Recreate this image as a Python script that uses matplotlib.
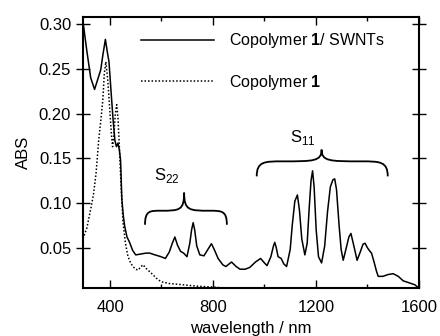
import numpy as np
import matplotlib
matplotlib.use('Agg')
import matplotlib.pyplot as plt
from matplotlib.path import Path
from matplotlib.patches import PathPatch

plt.rcParams['font.family'] = ['Liberation Sans', 'DejaVu Sans']
plt.rcParams['mathtext.fontset'] = 'custom'
plt.rcParams['mathtext.rm'] = 'Liberation Sans'
plt.rcParams['mathtext.bf'] = 'Liberation Sans:bold'

# Copolymer 1 / SWNTs (solid)
wl_swnt = [295, 310, 325, 340, 352, 364, 372, 382, 390, 396, 404, 412, 419, 425, 431, 436,
           441, 446, 452, 457, 466, 476, 488, 500, 520, 540, 554, 575, 598, 615, 630, 642,
           652, 662, 674, 686, 699, 710, 717, 723, 729, 737, 749, 765, 780, 794, 805, 820,
           838, 850, 872, 890, 905, 925, 943, 965, 985, 1000, 1010, 1025, 1035, 1040, 1046,
           1053, 1065, 1075, 1086, 1100, 1108, 1118, 1128, 1136, 1145, 1157, 1166, 1174, 1181,
           1187, 1193, 1201, 1210, 1222, 1234, 1245, 1256, 1266, 1273, 1280, 1290, 1298, 1306,
           1318, 1328, 1336, 1345, 1360, 1372, 1383, 1391, 1400, 1410, 1416, 1425, 1435, 1442,
           1460, 1480, 1500, 1520, 1539, 1560, 1584, 1600]
abs_swnt = [0.303, 0.27, 0.24, 0.227, 0.238, 0.249, 0.265, 0.283, 0.268, 0.258, 0.225, 0.193,
            0.170, 0.163, 0.167, 0.160, 0.148, 0.104, 0.085, 0.074, 0.062, 0.056, 0.047, 0.042,
            0.043, 0.044, 0.044, 0.042, 0.040, 0.038, 0.045, 0.055, 0.062, 0.053, 0.046, 0.044,
            0.040, 0.055, 0.070, 0.078, 0.070, 0.052, 0.042, 0.041, 0.048, 0.0545, 0.048, 0.038,
            0.031, 0.029, 0.034, 0.029, 0.026, 0.026, 0.028, 0.034, 0.038, 0.033, 0.030, 0.040,
            0.052, 0.056, 0.050, 0.040, 0.038, 0.032, 0.029, 0.048, 0.075, 0.102, 0.109, 0.092,
            0.060, 0.042, 0.055, 0.095, 0.125, 0.136, 0.118, 0.070, 0.040, 0.033, 0.052, 0.090,
            0.118, 0.126, 0.127, 0.115, 0.075, 0.048, 0.036, 0.050, 0.062, 0.066, 0.055, 0.036,
            0.045, 0.054, 0.055, 0.050, 0.046, 0.044, 0.035, 0.024, 0.018, 0.018, 0.020, 0.021,
            0.018, 0.013, 0.011, 0.0086, 0.005]

# Copolymer 1 (dotted)
wl_poly = [295, 310, 327, 336, 346, 356, 366, 372, 378, 384, 392, 400, 406, 410, 415, 420,
           426, 431, 436, 442, 450, 460, 470, 480, 489, 500, 509, 518, 528, 540, 559, 580,
           598, 630, 683, 740, 800, 850]
abs_poly = [0.060, 0.072, 0.096, 0.110, 0.134, 0.170, 0.197, 0.215, 0.245, 0.258, 0.235,
            0.200, 0.175, 0.163, 0.175, 0.198, 0.210, 0.195, 0.165, 0.125, 0.080, 0.055,
            0.040, 0.033, 0.029, 0.026, 0.025, 0.028, 0.031, 0.027, 0.022, 0.016, 0.012,
            0.010, 0.0086, 0.007, 0.006, 0.005]

# braces: (left, right, tip x, end y, arm y, tip y), label text and position
braces = [(536, 854, 688, 0.0757, 0.0914, 0.1116),
          (970, 1479, 1222, 0.1298, 0.1466, 0.1597)]
brace_labels = ['S$_{22}$', 'S$_{11}$']
brace_label_pos = [(620, 0.131), (1151, 0.173)]


def brace_path(x0, x1, xm, ye, ya, yt):
    dl = xm - x0
    dr = x1 - xm
    verts = [(x0, ye),
             (x0, ya), (x0 + 0.12 * dl, ya), (x0 + 0.4 * dl, ya),
             (xm - 0.12 * dl, ya), (xm, ya), (xm, yt),
             (xm, ya), (xm + 0.12 * dr, ya), (x1 - 0.4 * dr, ya),
             (x1 - 0.12 * dr, ya), (x1, ya), (x1, ye)]
    codes = [Path.MOVETO] + [Path.CURVE4] * 12
    return Path(verts, codes)


fig = plt.figure(figsize=(4.4, 3.36), dpi=100)
ax = fig.add_axes([0.1886, 0.1429, 0.7634, 0.8065])

ax.plot(wl_swnt, abs_swnt, color='black', lw=1.1, label='Copolymer $\\mathbf{1}$/ SWNTs')
ax.plot(wl_poly, abs_poly, color='black', lw=1.1, linestyle=(0, (1, 1.3)),
        label='Copolymer $\\mathbf{1}$')

for b, lab, pos in zip(braces, brace_labels, brace_label_pos):
    ax.add_patch(PathPatch(brace_path(*b), facecolor='none', edgecolor='black', lw=1.3))
    ax.text(pos[0], pos[1], lab, fontsize=12, ha='center', va='center')

ax.set_xlim(295, 1600)
ax.set_ylim(0.005, 0.308)
ax.set_xticks([400, 800, 1200, 1600])
ax.set_xticks([600, 1000, 1400], minor=True)
ax.set_yticks([0.05, 0.10, 0.15, 0.20, 0.25, 0.30])
ax.set_yticklabels(['0.05', '0.10', '0.15', '0.20', '0.25', '0.30'])

ax.tick_params(axis='x', which='major', direction='in', top=True, length=6, width=1,
               labelsize=12, pad=9)
ax.tick_params(axis='x', which='minor', direction='in', top=True, length=3, width=1)
ax.tick_params(axis='y', which='major', direction='inout', length=10, width=1,
               labelsize=12, right=True)
for s in ax.spines.values():
    s.set_linewidth(1.5)

ax.set_xlabel('wavelength / nm', fontsize=12, labelpad=4)
ax.set_ylabel('ABS', fontsize=12, labelpad=6)

ax.legend(loc='upper left', bbox_to_anchor=(0.13, 1.0), frameon=False, fontsize=11.5,
          handlelength=4.6, handletextpad=0.9, labelspacing=1.4)

fig.savefig('out.png', dpi=100)
